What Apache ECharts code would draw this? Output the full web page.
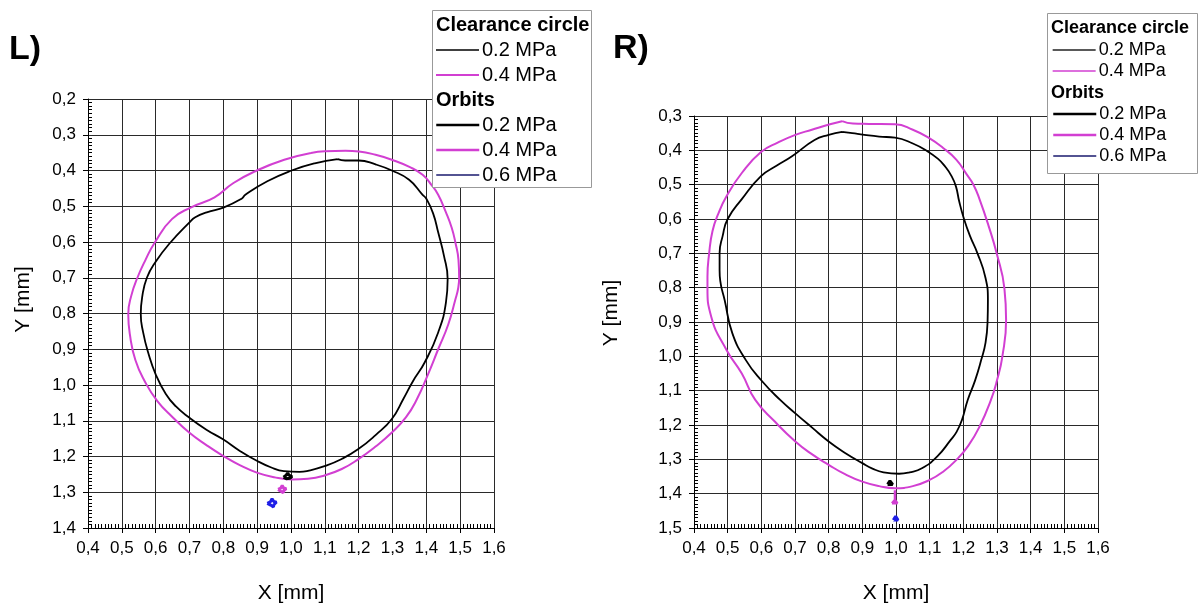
<!DOCTYPE html>
<html>
<head>
<meta charset="utf-8">
<script src="https://cdn.jsdelivr.net/npm/echarts@6/dist/echarts.min.js"></script>
<style>html,body{margin:0;padding:0;background:#fff}#c{width:1198px;height:605px}</style>
</head>
<body>
<div id="c"></div>
<script>
// ---------- data (X [mm], Y [mm]) ----------
const xTicks = [0.4, 1.6];          // x-axis range, step 0.1
const yTicksL = [0.2, 1.4];         // left y-axis range (inverted)
const yTicksR = [0.3, 1.5];         // right y-axis range (inverted)

// Left (L) clearance circles
const L_clear02 = [[1.138,0.368],[1.16,0.372],[1.2,0.372],[1.25,0.383],[1.298,0.40],[1.349,0.426],[1.389,0.468],[1.40,0.479],[1.42,0.52],[1.435,0.573],[1.452,0.638],[1.463,0.704],[1.458,0.769],[1.435,0.853],[1.395,0.937],[1.36,0.99],[1.332,1.039],[1.298,1.095],[1.25,1.14],[1.198,1.18],[1.15,1.207],[1.099,1.227],[1.05,1.24],[1.025,1.243],[0.979,1.241],[0.94,1.23],[0.899,1.212],[0.85,1.185],[0.799,1.152],[0.75,1.125],[0.699,1.091],[0.66,1.06],[0.63,1.025],[0.6,0.97],[0.578,0.91],[0.563,0.853],[0.556,0.802],[0.56,0.755],[0.574,0.70],[0.60,0.655],[0.643,0.602],[0.70,0.545],[0.717,0.531],[0.751,0.517],[0.802,0.503],[0.854,0.479],[0.865,0.468],[0.93,0.43],[1.002,0.40],[1.07,0.38],[1.138,0.368]];
const L_clear04 = [[1.059,0.351],[1.10,0.346],[1.161,0.345],[1.201,0.347],[1.25,0.356],[1.298,0.37],[1.35,0.39],[1.389,0.412],[1.415,0.44],[1.435,0.468],[1.458,0.517],[1.475,0.56],[1.486,0.602],[1.495,0.65],[1.497,0.70],[1.494,0.73],[1.486,0.76],[1.465,0.83],[1.435,0.90],[1.405,0.97],[1.372,1.04],[1.34,1.09],[1.298,1.133],[1.25,1.172],[1.198,1.208],[1.15,1.235],[1.099,1.253],[1.05,1.262],[1.002,1.264],[0.95,1.258],[0.899,1.245],[0.85,1.225],[0.799,1.198],[0.75,1.168],[0.699,1.133],[0.65,1.09],[0.605,1.045],[0.568,0.99],[0.54,0.93],[0.524,0.86],[0.519,0.802],[0.528,0.75],[0.546,0.70],[0.57,0.65],[0.597,0.602],[0.648,0.536],[0.705,0.503],[0.774,0.475],[0.83,0.435],[0.899,0.40],[0.98,0.37],[1.059,0.351]];
// Left (L) orbits
const L_orb02 = [[0.978,1.258],[0.986,1.252],[0.99,1.246],[0.994,1.252],[1.003,1.256],[0.996,1.261],[0.993,1.266],[0.986,1.262],[0.978,1.258]];
const L_orb04 = [[0.962,1.292],[0.97,1.288],[0.974,1.281],[0.978,1.288],[0.986,1.29],[0.979,1.295],[0.977,1.301],[0.97,1.297],[0.962,1.292]];
const L_orb06 = [[0.93,1.331],[0.939,1.327],[0.944,1.318],[0.949,1.326],[0.957,1.328],[0.95,1.334],[0.948,1.341],[0.94,1.336],[0.93,1.331]];

// Right (R) clearance circles
const R_clear02 = [[0.840,0.346],[0.87,0.35],[0.906,0.355],[0.95,0.36],[0.997,0.363],[1.05,0.38],[1.094,0.403],[1.125,0.425],[1.145,0.446],[1.165,0.475],[1.178,0.505],[1.188,0.55],[1.202,0.60],[1.22,0.65],[1.242,0.70],[1.265,0.768],[1.273,0.836],[1.272,0.90],[1.266,0.96],[1.253,1.011],[1.235,1.07],[1.213,1.127],[1.196,1.185],[1.18,1.22],[1.162,1.244],[1.122,1.292],[1.077,1.326],[1.04,1.338],[1.009,1.342],[0.963,1.338],[0.93,1.327],[0.90,1.311],[0.85,1.282],[0.80,1.248],[0.75,1.207],[0.701,1.166],[0.656,1.127],[0.599,1.069],[0.554,1.011],[0.514,0.933],[0.491,0.836],[0.478,0.78],[0.476,0.749],[0.476,0.70],[0.485,0.65],[0.50,0.60],[0.542,0.542],[0.599,0.475],[0.645,0.445],[0.69,0.418],[0.758,0.37],[0.80,0.355],[0.840,0.346]];
const R_clear04 = [[0.84,0.315],[0.872,0.322],[0.92,0.323],[0.997,0.324],[1.05,0.34],[1.10,0.365],[1.14,0.393],[1.179,0.427],[1.21,0.47],[1.23,0.50],[1.248,0.542],[1.275,0.62],[1.299,0.70],[1.322,0.802],[1.327,0.894],[1.316,1.00],[1.30,1.07],[1.282,1.127],[1.248,1.205],[1.215,1.26],[1.179,1.302],[1.14,1.336],[1.10,1.36],[1.05,1.378],[0.997,1.384],[0.95,1.378],[0.90,1.365],[0.85,1.344],[0.80,1.316],[0.75,1.285],[0.701,1.248],[0.64,1.19],[0.582,1.127],[0.542,1.05],[0.497,0.982],[0.451,0.884],[0.44,0.80],[0.44,0.768],[0.445,0.70],[0.455,0.635],[0.472,0.585],[0.497,0.533],[0.542,0.466],[0.599,0.405],[0.65,0.377],[0.701,0.355],[0.75,0.34],[0.804,0.324],[0.84,0.315]];
// Right (R) orbits
const R_orb02 = [[0.975,1.373],[0.982,1.363],[0.99,1.373],[0.975,1.373]];
const R_orb04 = [[0.997,1.39],[0.997,1.418],[0.988,1.428],[0.997,1.418],[1.004,1.428],[0.988,1.428]];
const R_orb06 = [[0.992,1.477],[0.999,1.466],[1.006,1.477],[0.992,1.477]];

const legendLabels = { Lc02:'0.2 MPa', Lc04:'0.4 MPa', Lo02:'0.2 MPa', Lo04:'0.4 MPa', Lo06:'0.6 MPa',
                       Rc02:'0.2 MPa', Rc04:'0.4 MPa', Ro02:'0.2 MPa', Ro04:'0.4 MPa', Ro06:'0.6 MPa' };

// ---------- styling ----------
const FONT = 'Liberation Sans, Arial, sans-serif';
const MAG = '#d23fd2';
const BLUE = '#1e1ee6';
const NAVY = '#1a1a6e';

function xAxis(gridIndex) {
  return {
    type: 'value', gridIndex, min: xTicks[0], max: xTicks[1], interval: 0.1,
    axisLine: { show: true, onZero: false, lineStyle: { color: '#000', width: 1 } },
    axisTick: { show: true, inside: false, length: 5, lineStyle: { color: '#000' } },
    minorTick: { show: true, splitNumber: 10, length: -4, lineStyle: { color: '#000' } },
    splitLine: { show: true, lineStyle: { color: '#2a2a2a', width: 1 } },
    axisLabel: { color: '#000', fontFamily: FONT, fontSize: 17, margin: 12,
      formatter: v => v.toFixed(1).replace('.', ',') },
    name: 'X [mm]', nameLocation: 'middle', nameGap: 55,
    nameTextStyle: { color: '#000', fontFamily: FONT, fontSize: 21 }
  };
}
function yAxis(gridIndex, range, gap, shift) {
  return {
    type: 'value', gridIndex, min: range[0], max: range[1], interval: 0.1, inverse: true,
    axisLine: { show: true, onZero: false, lineStyle: { color: '#000', width: 1 } },
    axisTick: { show: true, inside: false, length: 5, lineStyle: { color: '#000' } },
    minorTick: { show: true, splitNumber: 10, length: -4, lineStyle: { color: '#000' } },
    splitLine: { show: true, lineStyle: { color: '#2a2a2a', width: 1 } },
    axisLabel: { color: '#000', fontFamily: FONT, fontSize: 17, margin: 12,
      formatter: v => v.toFixed(1).replace('.', ',') },
    name: 'Y [mm]', nameLocation: 'middle', nameGap: gap,
    nameTextStyle: { color: '#000', fontFamily: FONT, fontSize: 21, padding: [0, 0, 0, shift] }
  };
}
function lineSeries(name, data, color, width, idx, smooth) {
  return { name, type: 'line', data, xAxisIndex: idx, yAxisIndex: idx,
    symbol: 'none', showSymbol: false, smooth: smooth ? 0.5 : false, clip: false,
    lineStyle: { color, width }, itemStyle: { color }, animation: false, z: 3 };
}
function legendCfg(names, widths, colors, left, top, size, gap) {
  return {
    orient: 'vertical', left, top, padding: 0, itemGap: gap, itemWidth: 43, itemHeight: 12,
    selectedMode: false, z: 6,
    itemStyle: { opacity: 0, borderWidth: 0 },
    textStyle: { color: '#000', fontFamily: FONT, fontSize: size, lineHeight: size, padding: [0,0,0,-2] },
    formatter: n => legendLabels[n],
    data: names.map((n, i) => ({ name: n, lineStyle: { width: widths[i], color: colors[i] },
      itemStyle: { opacity: 0, borderWidth: 0 } }))
  };
}

const chart = echarts.init(document.getElementById('c'), null, { renderer: 'canvas' });
chart.setOption({
  animation: false,
  backgroundColor: '#fff',
  grid: [
    { left: 88, top: 99, width: 406, height: 429, outerBoundsMode: 'none', containLabel: false },
    { left: 694, top: 116, width: 404, height: 412, outerBoundsMode: 'none', containLabel: false }
  ],
  xAxis: [xAxis(0), xAxis(1)],
  yAxis: [yAxis(0, yTicksL, 54, 28), yAxis(1, yTicksR, 72, 18)],
  legend: [
    legendCfg(['Lc02','Lc04'], [1.4, 2], ['#000', MAG], 435, 40, 20, 5),
    legendCfg(['Lo02','Lo04','Lo06'], [2.5, 2.5, 1.4], ['#000', MAG, NAVY], 435, 115, 20, 5),
    legendCfg(['Rc02','Rc04'], [1.3, 1.3], ['#222', MAG], 1052, 41, 18, 3),
    legendCfg(['Ro02','Ro04','Ro06'], [2.5, 2.5, 1.4], ['#000', MAG, NAVY], 1052, 105, 18, 3)
  ],
  graphic: [
    { type: 'rect', z: 5, shape: { x: 432.5, y: 10.5, width: 159, height: 177 },
      style: { fill: '#fff', stroke: '#999', lineWidth: 1 } },
    { type: 'text', z: 7, x: 436, y: 25, style: { text: 'Clearance circle', fill: '#000',
      font: 'bold 20px ' + FONT, verticalAlign: 'middle' } },
    { type: 'text', z: 7, x: 436, y: 100, style: { text: 'Orbits', fill: '#000',
      font: 'bold 20px ' + FONT, verticalAlign: 'middle' } },
    { type: 'rect', z: 5, shape: { x: 1047.5, y: 13.5, width: 150, height: 160 },
      style: { fill: '#fff', stroke: '#999', lineWidth: 1 } },
    { type: 'text', z: 7, x: 1051, y: 28, style: { text: 'Clearance circle', fill: '#000',
      font: 'bold 18px ' + FONT, verticalAlign: 'middle' } },
    { type: 'text', z: 7, x: 1051, y: 93, style: { text: 'Orbits', fill: '#000',
      font: 'bold 18px ' + FONT, verticalAlign: 'middle' } },
    { type: 'text', z: 7, x: 9, y: 50, style: { text: 'L)', fill: '#000',
      font: 'bold 34px ' + FONT, verticalAlign: 'middle' } },
    { type: 'text', z: 7, x: 613, y: 49, style: { text: 'R)', fill: '#000',
      font: 'bold 34px ' + FONT, verticalAlign: 'middle' } }
  ],
  series: [
    lineSeries('Lc02', L_clear02, '#000', 1.8, 0, true),
    lineSeries('Lc04', L_clear04, MAG, 2, 0, true),
    lineSeries('Lo02', L_orb02, '#000', 3, 0, false),
    lineSeries('Lo04', L_orb04, MAG, 3, 0, false),
    lineSeries('Lo06', L_orb06, BLUE, 3, 0, false),
    lineSeries('Rc02', R_clear02, '#000', 1.8, 1, true),
    lineSeries('Rc04', R_clear04, MAG, 2, 1, true),
    lineSeries('Ro02', R_orb02, '#000', 3, 1, false),
    lineSeries('Ro04', R_orb04, MAG, 2.5, 1, false),
    lineSeries('Ro06', R_orb06, BLUE, 3, 1, false)
  ]
});
</script>
</body>
</html>
